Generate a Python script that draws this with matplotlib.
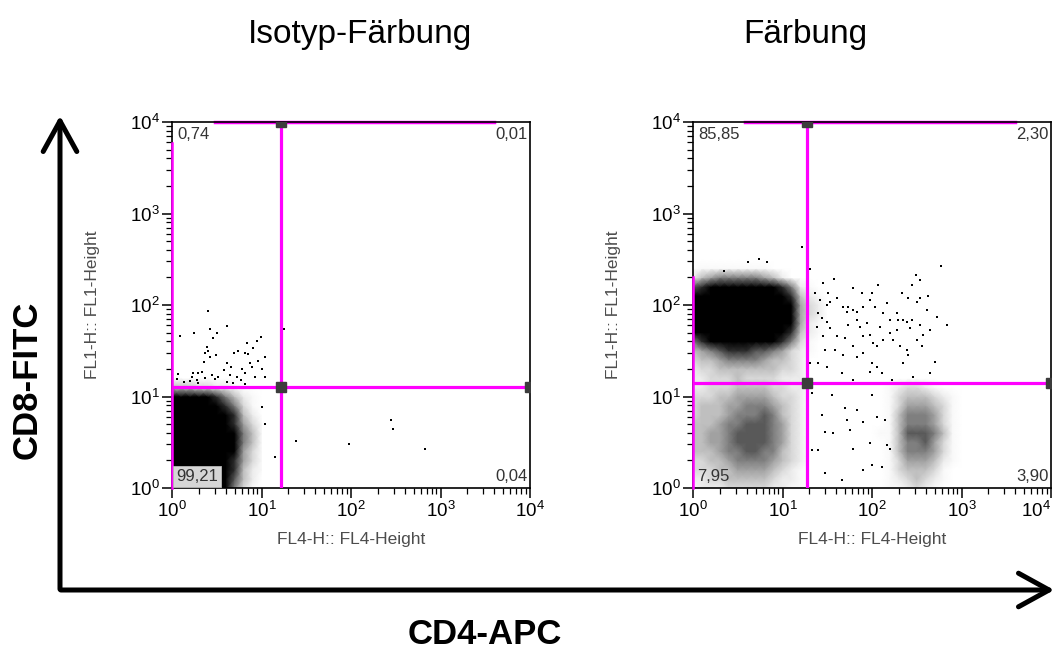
import numpy as np
import matplotlib
matplotlib.use('Agg')
import matplotlib.pyplot as plt
from matplotlib.colors import PowerNorm
from matplotlib.patches import FancyArrowPatch
from matplotlib.ticker import FixedLocator, LogLocator, LogFormatterSciNotation, NullFormatter

plt.rcParams['font.family'] = ['Liberation Sans', 'DejaVu Sans']
plt.rcParams['mathtext.fontset'] = 'custom'
plt.rcParams['mathtext.rm'] = 'Liberation Sans'
plt.rcParams['mathtext.it'] = 'Liberation Sans:italic'
plt.rcParams['mathtext.bf'] = 'Liberation Sans:bold'
plt.rcParams['mathtext.default'] = 'regular'

# ---- data ----
panel_titles = ['Isotyp-Färbung', 'Färbung']
x_label = 'FL4-H:: FL4-Height'
y_label = 'FL1-H:: FL1-Height'

# quadrant percentages: upper-left, upper-right, lower-left, lower-right
quad_left = ['0,74', '0,01', '99,21', '0,04']
quad_right = ['85,85', '2,30', '7,95', '3,90']

# quadrant gate positions (FL4, FL1)
gate_left = (16.5, 12.8)
gate_right = (18.8, 14.0)

# event density, nodes every 0.1 decade starting at 10^0, top row = highest FL1
# (0 = empty, 9 = solid black)
density_left = [
    "00000000000",
    "44433221000",
    "99999864210",
    "99999986310",
    "99999998420",
    "99999998531",
    "99999999641",
    "99999999641",
    "99999999531",
    "99999998531",
    "99999998421",
    "99999997420",
    "99999996310",
]

density_right = [
    "0000000000000" "00000000" "0000000000",
    "0111111110000" "00000000" "0000000000",
    "2456666654200" "00000000" "0000000000",
    "7899999999862" "10000000" "0000000000",
    "9999999999984" "21000000" "0000000000",
    "9999999999995" "32000000" "0000000000",
    "9999999999995" "32000000" "0000000000",
    "9999999999995" "21000000" "0000000000",
    "9999999999984" "21000000" "0000000000",
    "6899999999863" "10000000" "0000000000",
    "4567888776532" "10000000" "0000000000",
    "3445666654432" "00000000" "0000000000",
    "2334444444332" "00000000" "0000000000",
    "2233343333222" "00000000" "0000000000",
    "2233344443322" "00000000" "0123321000",
    "3334455554332" "00000000" "0134443210",
    "3444556665432" "00000000" "0135554310",
    "3444566676432" "00000000" "0146665310",
    "4445667776532" "00000000" "0146665310",
    "4455677776532" "00000000" "1147776410",
    "4455677776532" "00000000" "0146675310",
    "4445667766432" "00000000" "0146665310",
    "3344566665432" "00000000" "0135554210",
    "3334455554321" "00000000" "0134443100",
    "2233444443221" "00000000" "0123432100",
    "1222333332211" "00000000" "0112321000",
]

# single scattered events
dots_left_x = [2.5, 1.23, 1.77, 2.65, 3.15, 4.07, 2.84, 2.44, 2.54, 2.33, 3.07, 2.65, 2.3,
               4.07, 5.5, 6.8, 8.8, 9.8, 8.1, 6.5, 7.1, 4.96, 4.6, 6.0, 7.4, 7.9, 9.2, 10.9,
               10.2, 8.4, 10.9, 6.5, 5.3, 4.4, 3.84, 3.3, 3.0, 2.8, 2.14, 1.97, 1.73, 1.66,
               1.59, 1.89, 2.33, 1.16, 1.13, 1.37, 1.97, 4.07, 4.84, 5.9, 6.5, 16.8, 18.0,
               10.0, 10.9, 14.1, 24.6, 95, 278, 295, 667]
dots_left_y = [87, 45.8, 50, 54, 49, 59, 44, 34.5, 31.6, 29.6, 28.4, 27.2, 24,
               23.4, 31.6, 38, 40.7, 45, 33.6, 29.6, 28.9, 29.6, 20.8, 19.8, 23, 20.8, 24.6, 27.2,
               19.8, 16.2, 16.2, 18.2, 16.5, 17.2, 19.5, 16.2, 15.4, 17.2, 18.7, 17.9, 18.2, 16.2,
               14.9, 15.1, 15.8, 17.6, 15.4, 14.5, 13.9, 14.5, 14.2, 15.1, 13.7, 74.5, 54,
               7.7, 5.0, 2.2, 3.3, 3.0, 5.6, 4.4, 2.7]

dots_right_x = [20.3, 37.6, 28.6, 23.1, 26.2, 32.5, 34.0, 31.1, 40.3, 47.8, 54.3, 61.8, 67.4,
                52.1, 25.1, 27.4, 24.1, 31.1, 34.0, 28.6, 40.3, 38.6, 29.8, 47.8, 61.8, 76.7,
                99, 118, 95, 108, 80, 146, 134, 159, 189, 197, 224, 244, 277, 266, 214, 255,
                277, 310, 344, 426, 408, 528, 684, 585, 344, 316, 67.4, 73.5, 80, 95, 103, 113,
                80, 67.4, 61.8, 99, 113, 159, 173, 206, 244, 255, 316, 359, 224, 290, 445, 166,
                128, 95, 61.8, 45.8, 31.1, 25.1, 20.3, 506, 54.3, 49.9, 87.3, 123, 134, 189,
                375, 344, 445, 16.4, 5.5, 4.15, 6.7, 2.2,
                35.4, 52.1, 29.8, 37, 61.8, 56.8, 99, 113, 80, 99, 128, 29.8, 45.8, 25.1, 95,
                67.4, 49.9, 80, 146, 159, 140, 21.2, 27.4, 21.2]
dots_right_y = [247, 192, 173, 135, 114, 135, 109, 100, 119, 96, 96, 88.6, 84.9,
                84.9, 81.5, 71.9, 58.2, 66, 55.8, 45.3, 45.3, 32.4, 32.4, 28.5, 153, 135,
                135, 166, 114, 96, 96, 105, 81.5, 68.9, 81.5, 68.9, 68.9, 66, 68.9, 55.8, 135, 119,
                166, 214, 189, 124, 88.6, 74.8, 60.7, 264, 119, 109, 68.9, 58.2, 45.3, 47.2, 38.3, 35.2,
                29.7, 27.3, 35.2, 23.1, 21.2, 49.2, 41.6, 35.2, 32.4, 28.5, 41.6, 35.2, 23.1, 16.5, 18, 15.2,
                18, 18.7, 15.2, 18, 21.2, 23.1, 23.1, 24.1, 60.7, 43.4, 63.4, 58.2, 41.6, 53.6,
                47.2, 60.7, 53.6, 427, 318, 295, 295, 236,
                10.4, 5.5, 4.1, 4.0, 2.7, 4.3, 10.4, 6.0, 1.57, 1.79, 1.71, 1.45, 1.22, 2.6, 3.1,
                7.1, 7.4, 5.3, 2.95, 2.7, 5.5, 10.9, 6.3, 2.6]

# magenta gate borders along the frame: (left edge top, top edge start, top edge end)
border_left = (5900, 3.0, 4000)
border_right = (204, 3.8, 4000)

MAGENTA = '#ff00ff'
W, H = 1059, 650

fig = plt.figure(figsize=(W / 100, H / 100), dpi=100)
ax_l = fig.add_axes([172 / W, 1 - 488 / H, 358 / W, 366 / H])
ax_r = fig.add_axes([693 / W, 1 - 488 / H, 358 / W, 366 / H])

norm = PowerNorm(gamma=1.7, vmin=0, vmax=9)


def draw_panel(ax, title_x, title, density, dx, dy, gate, quads, border, shade_ll):
    z = np.array([[int(c) for c in row] for row in density[::-1]], dtype=float)
    xs = 10 ** (np.arange(z.shape[1]) * 0.1)
    ys = 10 ** (np.arange(z.shape[0]) * 0.1)
    ax.set_xscale('log')
    ax.set_yscale('log')
    ax.pcolormesh(xs, ys, z, shading='gouraud', cmap='gray_r', norm=norm, zorder=1)
    ax.plot(dx, dy, 's', ms=2.0, mew=0, color='black', zorder=2)

    gx, gy = gate
    ax.axvline(gx, color=MAGENTA, lw=2.3, zorder=3)
    ax.axhline(gy, color=MAGENTA, lw=2.3, zorder=3)
    ax.plot([gx], [gy], 's', ms=7, color='#3c3c3c', zorder=4)
    ax.plot([gx], [1e4], 's', ms=7, color='#3c3c3c', zorder=4)
    ax.plot([1e4], [gy], 's', ms=7, color='#3c3c3c', zorder=4)
    ax.plot([1, 1], [1, border[0]], color=MAGENTA, lw=1.8, zorder=5, clip_on=False)
    ax.plot([border[1], border[2]], [1e4, 1e4], color=MAGENTA, lw=2.5, zorder=1.5, clip_on=False)

    ax.set_xlim(1, 1e4)
    ax.set_ylim(1, 1e4)
    for axis in (ax.xaxis, ax.yaxis):
        axis.set_major_locator(FixedLocator([1, 10, 100, 1000, 10000]))
        axis.set_major_formatter(LogFormatterSciNotation())
        axis.set_minor_locator(LogLocator(base=10, subs=np.arange(2, 10), numticks=20))
        axis.set_minor_formatter(NullFormatter())
    ax.tick_params(which='major', direction='out', length=7, width=1.1, labelsize=13.5, pad=2)
    ax.tick_params(which='minor', direction='out', length=4, width=0.9)
    for s in ax.spines.values():
        s.set_linewidth(1.2)
        s.set_color('black')

    ax.set_xlabel(x_label, fontsize=12.5, color='#4d4d4d')
    ax.xaxis.set_label_coords(0.5, -0.12)
    ax.set_ylabel(y_label, fontsize=12.5, color='#4d4d4d')
    ax.yaxis.set_label_coords(-0.2, 0.5)

    kw = dict(transform=ax.transAxes, fontsize=12, color='#333333', zorder=6)
    ax.text(0.015, 0.987, quads[0], ha='left', va='top', **kw)
    ax.text(0.993, 0.987, quads[1], ha='right', va='top', **kw)
    ll = ax.text(0.012, 0.012, quads[2], ha='left', va='bottom', **kw)
    if shade_ll:
        ll.set_bbox(dict(boxstyle='square,pad=0.18', fc='#d6d6d6', ec='#b8b8b8', lw=0.6))
    ax.text(0.993, 0.012, quads[3], ha='right', va='bottom', **kw)

    fig.text(title_x / W, 1 - 34 / H, title, ha='center', va='center', fontsize=24)


draw_panel(ax_l, 360, panel_titles[0], density_left, dots_left_x, dots_left_y,
           gate_left, quad_left, border_left, True)
draw_panel(ax_r, 805, panel_titles[1], density_right, dots_right_x, dots_right_y,
           gate_right, quad_right, border_right, False)

# keep the last x tick label of the right plot inside the picture
fig.canvas.draw()
ax_r.get_xticklabels()[-1].set_horizontalalignment('right')
ax_r.get_xticklabels()[-1].set_x(1e4)

# big axis arrows around both plots
arrow_kw = dict(transform=fig.transFigure, color='black', lw=3.6,
                arrowstyle='->,head_length=1.0,head_width=0.55', mutation_scale=22)
fig.add_artist(FancyArrowPatch((60 / W, 1 - 592 / H), (60 / W, 1 - 113 / H), **arrow_kw))
fig.add_artist(FancyArrowPatch((58 / W, 1 - 590 / H), (1057 / W, 1 - 590 / H), **arrow_kw))

fig.text(27 / W, 1 - 380 / H, 'CD8-FITC', rotation=90, ha='center', va='center',
         fontsize=25, fontweight='bold')
fig.text(485 / W, 1 - 635 / H, 'CD4-APC', ha='center', va='center',
         fontsize=25, fontweight='bold')

fig.savefig('out.png', dpi=100)
